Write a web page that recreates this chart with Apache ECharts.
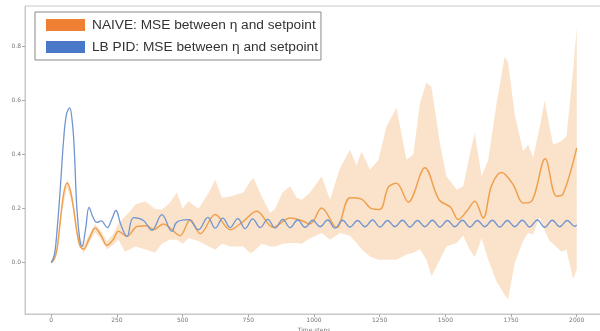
<!DOCTYPE html>
<html><head><meta charset="utf-8">
<script src="https://cdn.jsdelivr.net/npm/echarts@6/dist/echarts.min.js"></script>
<style>html,body{margin:0;padding:0;background:#fff}#c{width:600px;height:331px}</style>
</head><body><div id="c"></div>
<script>
const xTicks = [0,250,500,750,1000,1250,1500,1750,2000];
const yTicks = [0,0.2,0.4,0.6,0.8];
const seriesNames = ['NAIVE: MSE between η and setpoint','LB PID: MSE between η and setpoint'];

const orangeT = [0,12,22,35,48,60,72,85,98,110,123,145,167,190,212,235,256,288,326,364,389,427,452,490,529,567,624,681,731,782,845,909,947,985,1029,1086,1137,1181,1219,1251,1283,1314,1359,1422,1476,1520,1549,1581,1612,1644,1676,1714,1758,1796,1828,1880,1923,1948,2000];
const orangeV = [0,0.015,0.05,0.16,0.26,0.295,0.27,0.2,0.11,0.06,0.05,0.09,0.128,0.1,0.064,0.085,0.116,0.097,0.134,0.137,0.122,0.143,0.128,0.1,0.159,0.107,0.178,0.122,0.153,0.19,0.131,0.165,0.158,0.143,0.202,0.13,0.24,0.235,0.2,0.197,0.28,0.294,0.224,0.351,0.233,0.205,0.16,0.19,0.227,0.165,0.286,0.334,0.289,0.221,0.227,0.385,0.246,0.254,0.425];

const blueT = [0,12,22,34,47,58,70,80,87,97,108,117,130,144,158,174,190,213,230,246,265,288,313,350,383,421,459,478,522,560,596,624,653,681,710,738,767,795,824,852,881,909,938,966,995,1023,1052,1080,1109,1137,1166,1194,1223,1251,1280,1308,1337,1365,1394,1422,1451,1479,1508,1536,1565,1593,1622,1650,1679,1707,1736,1764,1793,1821,1850,1878,1907,1935,1964,1992,2000];
const blueV = [0,0.03,0.12,0.27,0.455,0.55,0.573,0.52,0.43,0.209,0.09,0.06,0.12,0.205,0.17,0.149,0.155,0.13,0.16,0.193,0.14,0.097,0.167,0.157,0.12,0.178,0.116,0.15,0.159,0.122,0.168,0.128,0.165,0.13,0.163,0.126,0.162,0.13,0.16,0.128,0.16,0.13,0.158,0.131,0.157,0.133,0.158,0.128,0.157,0.132,0.156,0.133,0.158,0.132,0.156,0.133,0.157,0.132,0.156,0.133,0.157,0.132,0.156,0.133,0.157,0.132,0.156,0.133,0.157,0.132,0.156,0.133,0.157,0.132,0.158,0.131,0.157,0.133,0.156,0.134,0.14];

const bandT = [0,20,40,60,80,100,123,145,167,190,212,235,256,280,300,320,357,395,421,450,478,500,522,560,600,624,650,681,731,757,769,801,833,852,880,909,934,953,985,1029,1061,1099,1137,1162,1181,1213,1245,1276,1314,1352,1378,1403,1428,1447,1479,1504,1543,1568,1593,1612,1638,1663,1695,1726,1739,1764,1796,1815,1834,1859,1878,1897,1910,1942,1961,1986,2000];
const bandLow = [0,0.035,0.185,0.28,0.215,0.085,0.035,0.075,0.113,0.085,0.049,0.065,0.085,0.04,0.05,0.06,0.05,0.037,0.07,0.085,0.085,0.07,0.09,0.08,0.06,0.048,0.07,0.06,0.06,0.036,0.04,0.07,0.06,0.06,0.07,0.073,0.073,0.07,0.09,0.11,0.085,0.11,0.1,0.073,0.05,0.023,0.011,0.011,0.011,0.03,0.037,0.05,0.011,-0.05,0.011,0.06,0.073,0.1,0.048,0.02,0.09,0.011,-0.07,-0.12,-0.135,0.0,0.08,0.11,0.104,0.17,0.12,0.079,0.07,0.04,0.048,-0.06,-0.026];
const bandHigh = [0.005,0.055,0.215,0.31,0.245,0.115,0.065,0.105,0.143,0.115,0.079,0.105,0.146,0.17,0.19,0.215,0.227,0.2,0.196,0.22,0.26,0.2,0.227,0.2,0.26,0.307,0.24,0.245,0.26,0.3,0.313,0.245,0.184,0.2,0.26,0.283,0.24,0.233,0.26,0.32,0.233,0.35,0.418,0.36,0.412,0.344,0.38,0.505,0.573,0.381,0.4,0.59,0.666,0.65,0.443,0.32,0.27,0.283,0.4,0.48,0.32,0.38,0.59,0.764,0.74,0.548,0.412,0.437,0.388,0.5,0.6,0.5,0.437,0.449,0.468,0.709,0.87];

const chart = echarts.init(document.getElementById('c'), null, {renderer:'canvas'});
const axisGray = '#c8c8c8';
const labelStyle = {fontSize:6, color:'#777', fontFamily:'DejaVu Sans'};

chart.setOption({
  animation:false,
  backgroundColor:'#fff',
  grid:{left:25, top:6, width:578, bottom:17, show:true, borderColor:axisGray, borderWidth:1, containLabel:false, outerBoundsMode:'none'},
  legend:{
    left:35, top:12, orient:'vertical',
    backgroundColor:'#fff', borderColor:'#8a8a8a', borderWidth:1,
    padding:[6,3,6,11], itemGap:8, itemWidth:39, itemHeight:12, icon:'rect',
    textStyle:{fontSize:13.7, color:'#333', fontFamily:'Liberation Sans', padding:[0,0,0,2]},
    data:[
      {name:seriesNames[0], itemStyle:{color:'#ef7f33'}},
      {name:seriesNames[1], itemStyle:{color:'#4a78c8'}}
    ]
  },
  xAxis:{
    type:'value', min:-100, max:2100,
    name:'Time steps', nameLocation:'middle', nameGap:10,
    nameTextStyle:{fontSize:6, color:'#777', fontFamily:'DejaVu Sans'},
    axisLine:{show:true, onZero:false, lineStyle:{color:axisGray}},
    axisTick:{show:true, length:3, lineStyle:{color:'#aaa'}, customValues:xTicks},
    axisLabel:Object.assign({margin:3, customValues:xTicks, formatter:v=>String(v)}, labelStyle),
    splitLine:{show:false}
  },
  yAxis:{
    type:'value', min:-0.19, max:0.95,
    name:'MSE', nameLocation:'middle', nameGap:16, nameRotate:90,
    nameTextStyle:{fontSize:6, color:'#777', fontFamily:'DejaVu Sans'},
    axisLine:{show:true, onZero:false, lineStyle:{color:axisGray}},
    axisTick:{show:true, length:3, lineStyle:{color:'#aaa'}, customValues:yTicks},
    axisLabel:Object.assign({margin:4, customValues:yTicks, formatter:v=>v.toFixed(1)}, labelStyle),
    splitLine:{show:false}
  },
  series:[
    {
      name:'band', type:'custom', z:1, silent:true, clip:true,
      data:bandT.map((t,i)=>[t,bandLow[i],bandHigh[i]]),
      encode:{x:0, y:[1,2]},
      renderItem:function(params, api){
        if (params.dataIndex !== 0) return null;
        const pts = [];
        for (let i=0;i<bandT.length;i++) pts.push(api.coord([bandT[i], bandHigh[i]]));
        for (let i=bandT.length-1;i>=0;i--) pts.push(api.coord([bandT[i], bandLow[i]]));
        return {type:'polygon', shape:{points:pts}, style:{fill:'#fbe3cb', stroke:null}};
      }
    },
    {
      name:seriesNames[0], type:'line', z:3, showSymbol:false, smooth:0.35,
      data:orangeT.map((t,i)=>[t,orangeV[i]]),
      lineStyle:{color:'#efa04e', width:1.5}, itemStyle:{color:'#ef7f33'}
    },
    {
      name:seriesNames[1], type:'line', z:4, showSymbol:false, smooth:0.4,
      data:blueT.map((t,i)=>[t,blueV[i]]),
      lineStyle:{color:'#7095d0', width:1.3}, itemStyle:{color:'#4a78c8'}
    }
  ]
});
</script>
</body></html>
